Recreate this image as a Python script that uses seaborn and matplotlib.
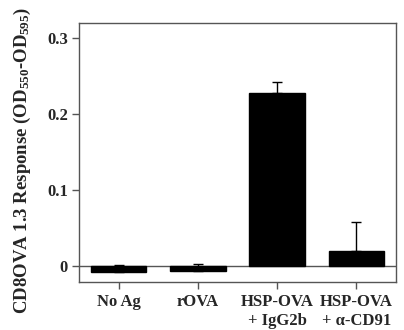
import numpy as np
import pandas as pd
import seaborn as sns
import matplotlib
matplotlib.use('Agg')
import matplotlib.pyplot as plt

groups = ['No Ag', 'rOVA', 'HSP-OVA\n+ IgG2b', 'HSP-OVA\n+ \u03b1-CD91']
response = [-0.008, -0.006, 0.228, 0.020]
err_upper = [0.010, 0.009, 0.0145, 0.0375]

sns.set_theme(style='white')
plt.rcParams['font.family'] = ['Liberation Serif', 'DejaVu Serif']
plt.rcParams['font.weight'] = 'bold'
plt.rcParams['mathtext.fontset'] = 'custom'
plt.rcParams['mathtext.rm'] = 'Liberation Serif:bold'
plt.rcParams['mathtext.it'] = 'Liberation Serif:bold'
plt.rcParams['mathtext.bf'] = 'Liberation Serif:bold'

df = pd.DataFrame({'group': groups, 'response': response})

fig = plt.figure(figsize=(4.04, 3.30), dpi=100)
ax = fig.add_axes([0.1955, 0.1455, 0.7845, 0.7845])

sns.barplot(data=df, x='group', y='response', color='black', width=0.7,
            saturation=1, errorbar=None, ax=ax, zorder=3)
for p in ax.patches:
    p.set_edgecolor('black')

ax.errorbar(np.arange(len(groups)), response,
            yerr=[np.zeros(len(groups)), err_upper],
            fmt='none', ecolor='black', elinewidth=1, capsize=3.5, capthick=1, zorder=4)

ax.axhline(0, color='#555555', lw=1, zorder=2)

ax.set_xlim(-0.5, 3.5)
ax.set_ylim(-0.021, 0.32)
ax.set_yticks([0, 0.1, 0.2, 0.3])
ax.set_yticklabels(['0', '0.1', '0.2', '0.3'])
ax.set_xlabel('')
ax.set_ylabel(r'CD8OVA 1.3 Response (OD$_{550}$-OD$_{595}$)', fontsize=13.5, fontweight='bold')
ax.yaxis.set_label_coords(-0.145, 0.47)

for s in ax.spines.values():
    s.set_color('#555555')
    s.set_linewidth(1)
ax.tick_params(axis='both', which='both', direction='out', length=5, width=1,
               color='#555555', labelsize=12, pad=3)
ax.tick_params(axis='x', pad=4)
ax.tick_params(left=True, bottom=True)
for lbl in ax.get_xticklabels() + ax.get_yticklabels():
    lbl.set_fontweight('bold')
for lbl in ax.get_xticklabels():
    lbl.set_linespacing(1.2)

fig.savefig('out.png', dpi=100)
